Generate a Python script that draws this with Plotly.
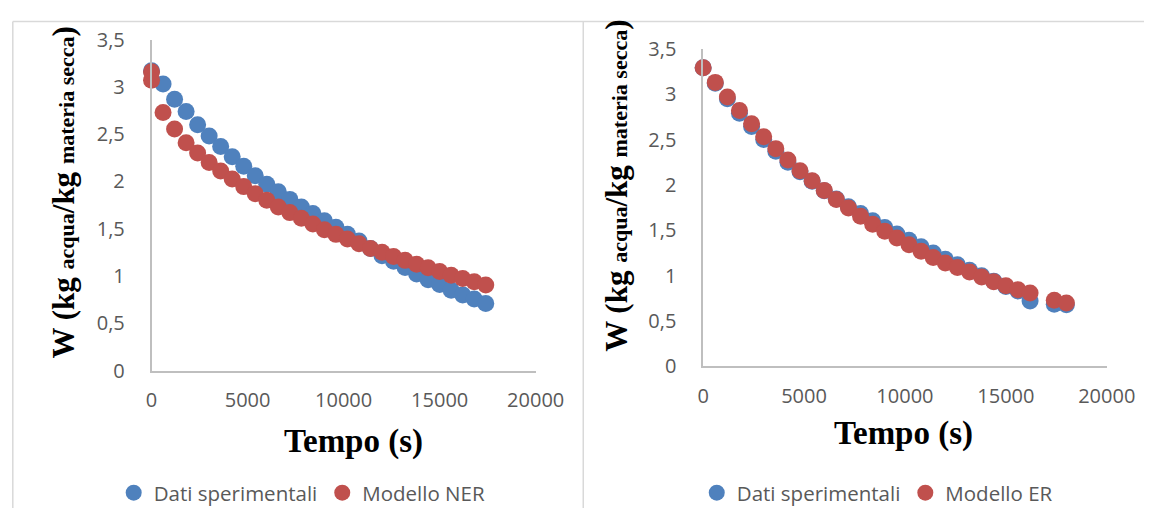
import plotly.graph_objects as go

# ---------------- data ----------------
t_left = [0, 600, 1200, 1800, 2400, 3000, 3600, 4200, 4800, 5400, 6000, 6600, 7200, 7800, 8400,
          9000, 9600, 10200, 10800, 11400, 12000, 12600, 13200, 13800, 14400, 15000, 15600, 16200, 16800, 17400]
w_exp_left = [3.17, 3.03, 2.87, 2.74, 2.60, 2.48, 2.37, 2.26, 2.16, 2.06, 1.97, 1.89, 1.81, 1.73, 1.66,
              1.585, 1.515, 1.44, 1.37, 1.29, 1.215, 1.155, 1.09, 1.02, 0.96, 0.91, 0.85, 0.80, 0.756, 0.71]
t_ner = [0, 0, 600, 1200, 1800, 2400, 3000, 3600, 4200, 4800, 5400, 6000, 6600, 7200, 7800, 8400,
         9000, 9600, 10200, 10800, 11400, 12000, 12600, 13200, 13800, 14400, 15000, 15600, 16200, 16800, 17400]
w_ner = [3.16, 3.07, 2.73, 2.555, 2.41, 2.30, 2.20, 2.11, 2.025, 1.945, 1.87, 1.80, 1.73, 1.67, 1.61, 1.55,
         1.49, 1.44, 1.39, 1.34, 1.29, 1.25, 1.205, 1.165, 1.125, 1.087, 1.047, 1.007, 0.974, 0.94, 0.904]

t_right = [0, 600, 1200, 1800, 2400, 3000, 3600, 4200, 4800, 5400, 6000, 6600, 7200, 7800, 8400,
           9000, 9600, 10200, 10800, 11400, 12000, 12600, 13200, 13800, 14400, 15000, 15600, 16200, 17400, 18000]
w_exp_right = [3.29, 3.12, 2.95, 2.79, 2.645, 2.50, 2.37, 2.25, 2.145, 2.04, 1.935, 1.845, 1.76, 1.685, 1.605,
               1.53, 1.46, 1.39, 1.32, 1.25, 1.18, 1.12, 1.06, 1.00, 0.94, 0.88, 0.83, 0.72, 0.686, 0.68]
w_er = [3.29, 3.13, 2.97, 2.82, 2.675, 2.53, 2.40, 2.275, 2.157, 2.045, 1.94, 1.84, 1.745, 1.655, 1.567,
        1.49, 1.415, 1.34, 1.27, 1.20, 1.14, 1.09, 1.04, 0.986, 0.934, 0.888, 0.846, 0.81, 0.73, 0.70]

x_tickvals = [0, 5000, 10000, 15000, 20000]
x_ticktext = ["0", "5000", "10000", "15000", "20000"]
y_tickvals = [0, 0.5, 1, 1.5, 2, 2.5, 3, 3.5]
y_ticktext = ["0", "0,5", "1", "1,5", "2", "2,5", "3", "3,5"]

name_exp = "Dati sperimentali"
name_ner = "Modello NER"
name_er = "Modello ER"
x_title = "Tempo (s)"
y_title = ("W (kg <span style='font-size:22px'>acqua</span>/kg "
           "<span style='font-size:22px'>materia secca</span>)")

# ---------------- figure ----------------
W, H = 1173, 521
BLUE = "#4F81BD"
RED = "#C0504D"
MS = 17

fig = go.Figure()
fig.add_trace(go.Scatter(x=t_left, y=w_exp_left, mode="markers", name=name_exp,
                         marker=dict(color=BLUE, size=MS), cliponaxis=False,
                         xaxis="x", yaxis="y", legend="legend"))
fig.add_trace(go.Scatter(x=t_ner, y=w_ner, mode="markers", name=name_ner,
                         marker=dict(color=RED, size=MS), cliponaxis=False,
                         xaxis="x", yaxis="y", legend="legend"))
fig.add_trace(go.Scatter(x=t_right, y=w_exp_right, mode="markers", name=name_exp,
                         marker=dict(color=BLUE, size=MS), cliponaxis=False,
                         xaxis="x2", yaxis="y2", legend="legend2"))
fig.add_trace(go.Scatter(x=t_right, y=w_er, mode="markers", name=name_er,
                         marker=dict(color=RED, size=MS), cliponaxis=False,
                         xaxis="x2", yaxis="y2", legend="legend2"))

tickfont = dict(family="Open Sans", size=20, color="#595959")
axcommon = dict(showgrid=False, zeroline=False, showline=True, linecolor="#BFBFBF",
                linewidth=1.5, ticks="", tickfont=tickfont, fixedrange=True)

def px(v):
    return v / W

def py(v):
    return 1 - v / H

legfont = dict(family="Open Sans", size=20.5, color="#595959")

fig.update_layout(
    width=W, height=H, margin=dict(l=0, r=0, t=0, b=0),
    paper_bgcolor="white", plot_bgcolor="white",
    showlegend=True,
    xaxis=dict(domain=[px(150), px(546)], range=[0, 20000], anchor="y",
               tickvals=x_tickvals, ticktext=x_ticktext, ticklabelstandoff=11, **axcommon),
    yaxis=dict(domain=[py(376), py(27)], range=[0, 3.5], anchor="x",
               tickvals=y_tickvals, ticktext=y_ticktext, ticklabelstandoff=21, **axcommon),
    xaxis2=dict(domain=[px(718.6), px(1134.6)], range=[0, 20000], anchor="y2",
                tickvals=x_tickvals, ticktext=x_ticktext, ticklabelstandoff=11, **axcommon),
    yaxis2=dict(domain=[py(371.7), py(36.7)], range=[0, 3.5], anchor="x2",
                tickvals=y_tickvals, ticktext=y_ticktext, ticklabelstandoff=21, **axcommon),
    legend=dict(orientation="h", x=px(111), y=py(505), xanchor="left", yanchor="middle",
                font=legfont, itemwidth=30, bgcolor="rgba(0,0,0,0)"),
    legend2=dict(orientation="h", x=px(712), y=py(505), xanchor="left", yanchor="middle",
                 font=legfont, itemwidth=30, bgcolor="rgba(0,0,0,0)"),
)

serif_bold = dict(family="Liberation Serif", size=31, color="black")
fig.add_annotation(text="<b>" + y_title + "</b>", x=px(59), y=py(188), xref="paper", yref="paper",
                   textangle=-90, showarrow=False, font=serif_bold, xanchor="center", yanchor="middle")
fig.add_annotation(text="<b>" + y_title + "</b>", x=px(629), y=py(181), xref="paper", yref="paper",
                   textangle=-90, showarrow=False, font=serif_bold, xanchor="center", yanchor="middle")
title_font = dict(family="Liberation Serif", size=33, color="black")
fig.add_annotation(text="<b>" + x_title + "</b>", x=px(358), y=py(451), xref="paper", yref="paper",
                   showarrow=False, font=title_font, xanchor="center", yanchor="middle")
fig.add_annotation(text="<b>" + x_title + "</b>", x=px(925), y=py(442), xref="paper", yref="paper",
                   showarrow=False, font=title_font, xanchor="center", yanchor="middle")

border = dict(color="#D9D9D9", width=1.5)
fig.add_shape(type="line", xref="paper", yref="paper", x0=px(7), x1=px(7), y0=py(8), y1=0, line=border)
fig.add_shape(type="line", xref="paper", yref="paper", x0=px(7), x1=1, y0=py(8), y1=py(8), line=border)
fig.add_shape(type="line", xref="paper", yref="paper", x0=px(595), x1=px(595), y0=py(8), y1=0, line=border)

fig.write_html("out.html")
